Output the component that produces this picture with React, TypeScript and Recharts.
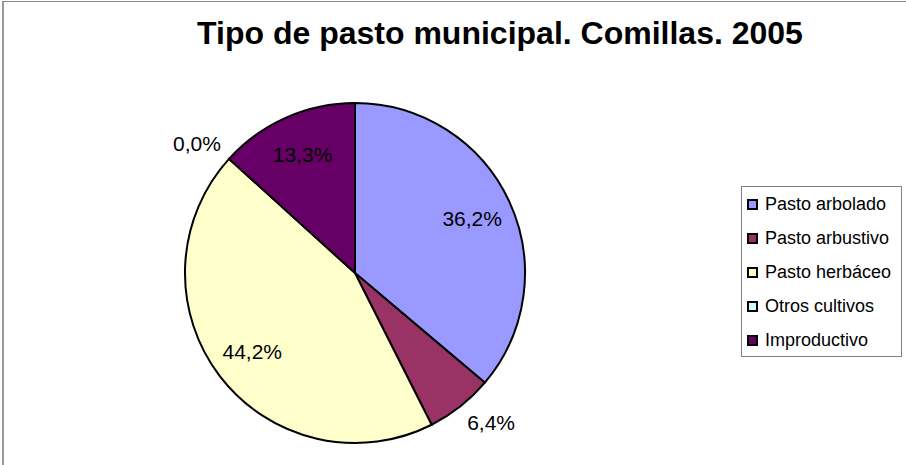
import { PieChart, Pie, Cell, Legend } from "recharts";

const categories = [
  "Pasto arbolado",
  "Pasto arbustivo",
  "Pasto herbáceo",
  "Otros cultivos",
  "Improductivo",
];
const percentages = [36.2, 6.4, 44.2, 0.0, 13.3];
const colors = ["#9999FF", "#993366", "#FFFFCC", "#CCFFFF", "#660066"];

const chartData = categories.map((name, i) => ({
  name,
  value: percentages[i],
}));

const FONT = "'Liberation Sans', Arial, sans-serif";
const RADIAN = Math.PI / 180;

const fmt = (v: number) => v.toFixed(1).replace(".", ",") + "%";

const renderLabel = (props: any) => {
  const { cx, cy, midAngle, outerRadius, value } = props;
  const cos = Math.cos(-midAngle * RADIAN);
  const sin = Math.sin(-midAngle * RADIAN);
  // small slices get their label outside, like excel does
  if (value < 10) {
    const r = outerRadius + 11;
    const x = cx + r * cos;
    const y = cy + r * sin;
    return (
      <text
        x={x}
        y={sin > 0 ? y + 15 : y}
        textAnchor={cos >= 0 ? "start" : "end"}
        fill="#000"
        fontSize={21}
        fontFamily={FONT}
      >
        {fmt(value)}
      </text>
    );
  }
  const r = outerRadius * 0.76;
  return (
    <text
      x={cx + r * cos}
      y={cy + r * sin}
      textAnchor="middle"
      dominantBaseline="central"
      fill="#000"
      fontSize={21}
      fontFamily={FONT}
    >
      {fmt(value)}
    </text>
  );
};

const renderLegend = () => (
  <div
    style={{
      boxSizing: "border-box",
      width: 161,
      height: 171,
      border: "1px solid #808080",
      fontFamily: FONT,
      fontSize: 18,
      color: "#000",
      background: "#fff",
    }}
  >
    {categories.map((name, i) => (
      <div
        key={name}
        style={{ height: 34, display: "flex", alignItems: "center", paddingLeft: 5 }}
      >
        <span
          style={{
            display: "inline-block",
            boxSizing: "border-box",
            width: 11,
            height: 11,
            background: colors[i],
            border: "2px solid #000",
            marginRight: 7,
          }}
        />
        <span>{name}</span>
      </div>
    ))}
  </div>
);

export default function App() {
  return (
    <div
      style={{
        position: "absolute",
        left: 0,
        top: 0,
        width: 906,
        height: 465,
        background: "#fff",
        overflow: "hidden",
      }}
    >
      <div
        style={{
          position: "absolute",
          left: 2,
          top: 1,
          width: 1000,
          height: 1000,
          borderLeft: "2px solid #999",
          borderTop: "1px solid #888",
        }}
      />
      <div
        style={{
          position: "absolute",
          left: 0,
          top: 17,
          width: 1000,
          textAlign: "center",
          fontFamily: FONT,
          fontWeight: "bold",
          fontSize: 32,
          lineHeight: "32px",
          color: "#000",
        }}
      >
        Tipo de pasto municipal. Comillas. 2005
      </div>
      <div style={{ position: "absolute", left: 0, top: 0 }}>
        <PieChart width={906} height={465}>
          <Pie
            data={chartData}
            dataKey="value"
            nameKey="name"
            cx={350}
            cy={268}
            outerRadius={170}
            startAngle={90}
            endAngle={-270}
            stroke="#000"
            strokeWidth={2}
            label={renderLabel}
            labelLine={false}
            isAnimationActive={false}
          >
            {chartData.map((d, i) => (
              <Cell key={d.name} fill={colors[i]} />
            ))}
          </Pie>
          <Legend
            content={renderLegend}
            wrapperStyle={{ position: "absolute", left: 741, top: 186, width: 161, height: 171 }}
          />
        </PieChart>
      </div>
    </div>
  );
}
